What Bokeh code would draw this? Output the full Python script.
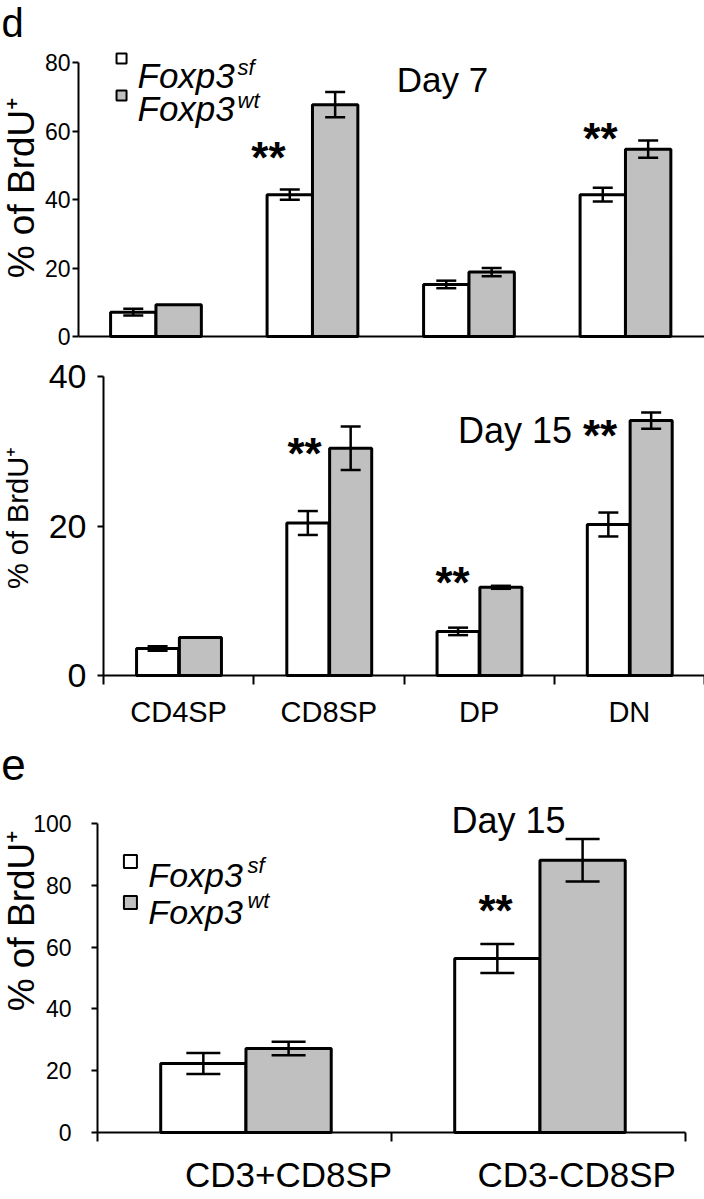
import numpy as np
from bokeh.plotting import figure
from bokeh.layouts import column
from bokeh.models import Range1d, FixedTicker, Whisker, ColumnDataSource, Label, TeeHead
from bokeh.embed import file_html
from bokeh.resources import INLINE

# ---------------- data ----------------
cells_d = ["CD4SP", "CD8SP", "DP", "DN"]
day7_sf = [7.1, 41.4, 15.2, 41.4]
day7_sf_err = [1.0, 1.5, 1.1, 2.0]
day7_wt = [9.3, 67.7, 18.8, 54.7]
day7_wt_err = [0.0, 3.7, 1.2, 2.5]

day15_sf = [3.6, 20.4, 5.9, 20.2]
day15_sf_err = [0.3, 1.6, 0.5, 1.6]
day15_wt = [5.1, 30.4, 11.8, 34.1]
day15_wt_err = [0.0, 2.9, 0.2, 1.1]

cells_e = ["CD3+CD8SP", "CD3-CD8SP"]
e_sf = [22.3, 56.3]
e_sf_err = [3.4, 4.7]
e_wt = [27.2, 88.1]
e_wt_err = [2.2, 6.9]

series_names = ["Foxp3", "Foxp3"]
series_sups = ["sf", "wt"]
ylabel = "% of BrdU\u207a"

FONT = "'Liberation Sans', Arial, sans-serif"
GRAY = "#c0c0c0"
W = 704


def make_fig(height, x0_px, ppx, y0_px, ppu):
    """Frame covers the whole canvas; x0_px/y0_px = canvas pixel of data (0, 0)."""
    xs = -x0_px / ppx
    ys = -(height - y0_px) / ppu
    p = figure(width=W, height=height,
               x_range=Range1d(xs, xs + W / ppx),
               y_range=Range1d(ys, ys + height / ppu),
               output_backend="svg", toolbar_location=None,
               min_border_left=0, min_border_right=0,
               min_border_top=0, min_border_bottom=0)
    p.xgrid.visible = False
    p.ygrid.visible = False
    p.outline_line_color = None
    return p


def draw_bars(p, sf, sf_err, wt, wt_err, offs, bw, lw, cap):
    n = len(sf)
    idx = np.arange(n)
    xs_sf = idx + offs[0]
    xs_wt = idx + offs[1]
    p.vbar(x=xs_sf, top=sf, width=bw, bottom=0, fill_color="white",
           line_color="black", line_width=lw)
    p.vbar(x=xs_wt, top=wt, width=bw, bottom=0, fill_color=GRAY,
           line_color="black", line_width=lw)
    for xs, v, e in ((xs_sf, sf, sf_err), (xs_wt, wt, wt_err)):
        keep = [i for i in range(n) if e[i] > 0]
        src = ColumnDataSource(dict(x=[float(xs[i]) for i in keep],
                                    upper=[v[i] + e[i] for i in keep],
                                    lower=[v[i] - e[i] for i in keep]))
        w = Whisker(source=src, base="x", upper="upper", lower="lower",
                    line_width=2.5, line_color="black", level="overlay",
                    upper_head=TeeHead(size=cap, line_width=2.5, line_color="black"),
                    lower_head=TeeHead(size=cap, line_width=2.5, line_color="black"))
        p.add_layout(w)


def style_y(p, ticks, bound, fsize, standoff):
    ax = p.yaxis[0]
    ax.fixed_location = 0
    ax.ticker = FixedTicker(ticks=ticks)
    ax.bounds = (0, bound)
    ax.axis_line_width = 2
    ax.axis_line_color = "black"
    ax.major_tick_line_width = 2
    ax.major_tick_line_color = "black"
    ax.major_tick_out = 6
    ax.major_tick_in = 0
    ax.minor_tick_line_color = None
    ax.major_label_text_font = FONT
    ax.major_label_text_font_size = f"{fsize}px"
    ax.major_label_text_color = "black"
    ax.major_label_standoff = standoff


def style_x(p, n, label_ticks=None, labels=None, fsize=29, standoff=17):
    ax = p.xaxis[0]
    ax.fixed_location = 0
    ax.bounds = (0, n)
    ax.axis_line_width = 2
    ax.axis_line_color = "black"
    if label_ticks is None:
        ax.ticker = FixedTicker(ticks=[])
        ax.major_label_text_font_size = "0px"
        ax.major_tick_line_color = None
        ax.minor_tick_line_color = None
        return
    ax.ticker = FixedTicker(ticks=label_ticks, minor_ticks=list(range(n + 1)))
    ax.major_label_overrides = {t: l for t, l in zip(label_ticks, labels)}
    ax.major_tick_line_color = None
    ax.major_tick_out = 0
    ax.major_tick_in = 0
    ax.minor_tick_out = 9
    ax.minor_tick_in = 0
    ax.minor_tick_line_width = 2
    ax.minor_tick_line_color = "black"
    ax.major_label_text_font = FONT
    ax.major_label_text_font_size = f"{fsize}px"
    ax.major_label_text_color = "black"
    ax.major_label_standoff = standoff


def label(p, x, y, text, size, style="normal", align="left", angle=0.0):
    # y is the vertical middle of the text line
    p.add_layout(Label(x=x, y=y, text=text, text_font=FONT, text_font_size=f"{size}px",
                       text_font_style=style, text_align=align, text_baseline="middle",
                       text_color="black", angle=angle))


def ylab(p, x, y, size):
    label(p, x, y, ylabel, size, align="center", angle=np.pi / 2)


def stars(p, x, yc, size, ppu):
    # yc = visual centre of the asterisks (they sit high in the em box)
    label(p, x, yc - 0.22 * size / ppu, "**", size, style="bold", align="center")


def legend(p, sq_x, sq_ys, sq_size, tx, text_ys, sup_x, sup_ys, tsize, ssize):
    p.scatter(x=[sq_x, sq_x], y=sq_ys, marker="square", size=sq_size,
              fill_color=["white", GRAY], line_color="black", line_width=2)
    for name, sup, ty, sy in zip(series_names, series_sups, text_ys, sup_ys):
        label(p, tx, ty, name, tsize, style="italic")
        label(p, sup_x, sy, sup, ssize, style="italic")


# ---------------- panel d, Day 7 ----------------
ppu1 = 3.425
p1 = make_fig(350, 78, 156.5, 336, ppu1)
draw_bars(p1, day7_sf, day7_sf_err, day7_wt, day7_wt_err, (0.35, 0.64), 0.29, 3, 20)
style_y(p1, [0, 20, 40, 60, 80], 80, 23, 2)
style_x(p1, len(cells_d))
label(p1, -0.492, 91.4, "d", 40)
ylab(p1, -0.364, 43.5, 37)
label(p1, 2.326, 75.0, "Day 7", 35, align="center")
legend(p1, 0.275, [81.2, 70.4], 10, 0.377, [76.2, 66.6], 1.016, [78.5, 68.9], 35, 22)
stars(p1, 1.214, 55.2, 44, ppu1)
stars(p1, 3.335, 60.7, 44, ppu1)

# ---------------- panel d, Day 15 ----------------
ppu2 = 7.475
p2 = make_fig(388, 103, 150.25, 325, ppu2)
draw_bars(p2, day15_sf, day15_sf_err, day15_wt, day15_wt_err, (0.36, 0.645), 0.28, 3, 20)
style_y(p2, [0, 20, 40], 40, 34, 11)
style_x(p2, len(cells_d), [i + 0.5 for i in range(len(cells_d))], cells_d, 29, 11)
ylab(p2, -0.572, 21.07, 29)
label(p2, 2.739, 32.8, "Day 15", 36, align="center")
stars(p2, 3.305, 33.4, 44, ppu2)
stars(p2, 1.338, 31.0, 44, ppu2)
stars(p2, 2.323, 13.8, 44, ppu2)

# ---------------- panel e ----------------
ppu3 = 3.09
p3 = make_fig(460, 97, 294, 394, ppu3)
draw_bars(p3, e_sf, e_sf_err, e_wt, e_wt_err, (0.36, 0.65), 0.29, 3, 34)
style_y(p3, [0, 20, 40, 60, 80, 100], 100, 23, 20)
style_x(p3, len(cells_e), [0.65, 1.63], cells_e, 35, 13)
label(p3, -0.327, 119.1, "e", 44)
ylab(p3, -0.259, 68.6, 37)
label(p3, 1.398, 101.0, "Day 15", 36, align="center")
legend(p3, 0.112, [87.7, 74.4], 13, 0.173, [83.2, 71.5], 0.51, [86.4, 75.1], 34, 22)
stars(p3, 1.354, 75.1, 44, ppu3)

layout = column(p1, p2, p3)
open("out.html", "w").write(file_html(layout, INLINE))
